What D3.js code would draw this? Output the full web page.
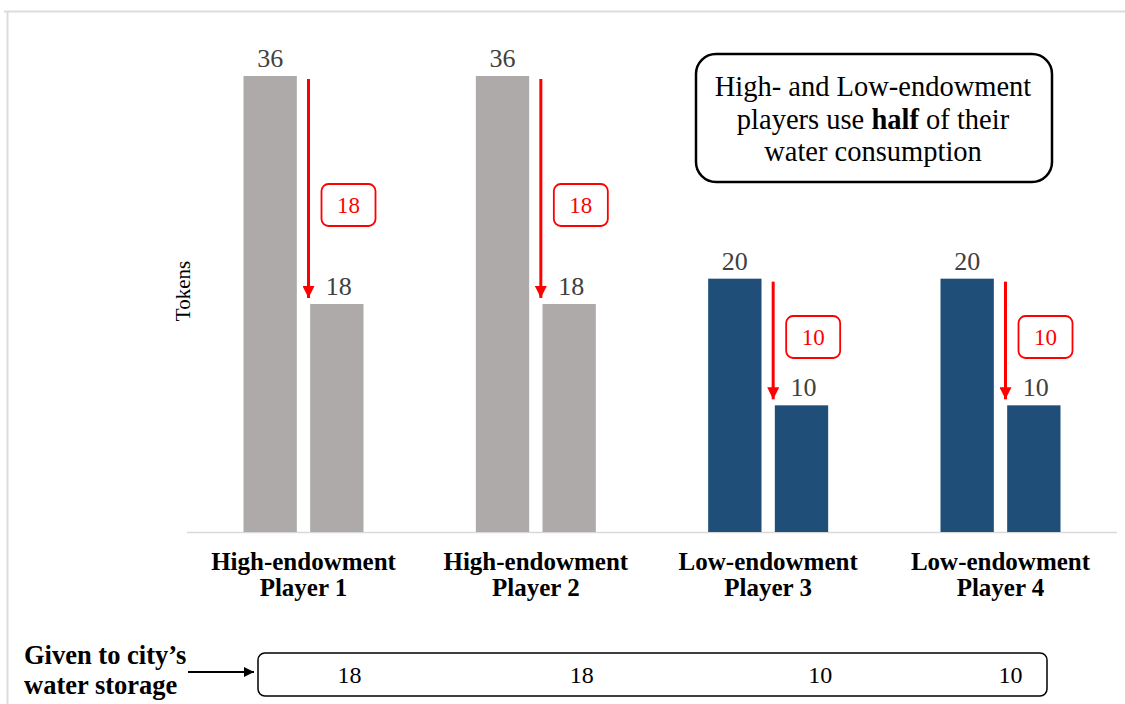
<!DOCTYPE html>
<html>
<head>
<meta charset="utf-8">
<script src="https://cdn.jsdelivr.net/npm/d3@7"></script>
</head>
<body style="margin:0; background:#fff">
<svg id="chart" width="1125" height="704" style="display:block"></svg>
<script>
// players and their token use before / after halving
const players = ["High-endowment\nPlayer 1", "High-endowment\nPlayer 2", "Low-endowment\nPlayer 3", "Low-endowment\nPlayer 4"];
const before = [36, 36, 20, 20];
const after = [18, 18, 10, 10];
const given = [18, 18, 10, 10];
const groupType = ["high", "high", "low", "low"];
const storeNudge = [46, 46, 52, 10];

const colors = { high: "#aeaaa9", low: "#1f4e79" };
const serif = '"Liberation Serif", "Times New Roman", serif';

const svg = d3.select("#chart");

// thin frame at top and left
svg.append("line").attr("x1", 4).attr("x2", 1125).attr("y1", 11.5).attr("y2", 11.5)
    .style("stroke", "#dcdcdc").style("stroke-width", 2);
svg.append("line").attr("x1", 7.5).attr("x2", 7.5).attr("y1", 11).attr("y2", 704)
    .style("stroke", "#dcdcdc").style("stroke-width", 2);

const x = d3.scalePoint().domain(d3.range(players.length)).range([303.5, 1000.5]);
const sub = d3.scaleBand().domain(["before", "after"]).range([-60, 60]).paddingInner(0.2);
const y = d3.scaleLinear().domain([0, 36]).range([532, 76]);

// baseline
svg.append("line").attr("x1", 187).attr("x2", 1117).attr("y1", y(0) + 0.5).attr("y2", y(0) + 0.5)
    .style("stroke", "#d9d9d9").style("stroke-width", 1.5);

const bars = [];
players.forEach((p, i) => {
    bars.push({ i, key: "before", v: before[i] });
    bars.push({ i, key: "after", v: after[i] });
});

svg.selectAll("rect.bar")
    .data(bars)
    .enter()
    .append("rect")
    .attr("class", "bar")
    .attr("x", d => x(d.i) + sub(d.key))
    .attr("y", d => y(d.v))
    .attr("width", sub.bandwidth())
    .attr("height", d => y(0) - y(d.v))
    .style("fill", d => colors[groupType[d.i]]);

// value labels
svg.selectAll("text.val")
    .data(bars)
    .enter()
    .append("text")
    .attr("class", "val")
    .attr("x", d => x(d.i) + sub(d.key) + sub.bandwidth() / 2 + (d.key === "after" ? 2 : 0))
    .attr("y", d => y(d.v) - 9)
    .attr("text-anchor", "middle")
    .style("font-size", "26px")
    .style("fill", "#404040")
    .text(d => d.v);

// arrow heads
const defs = svg.append("defs");
defs.append("marker")
    .attr("id", "redhead")
    .attr("viewBox", "0 0 10 10")
    .attr("refX", 10).attr("refY", 5)
    .attr("markerWidth", 4).attr("markerHeight", 4)
    .attr("orient", "auto")
    .append("path").attr("d", "M0,0L10,5L0,10z").style("fill", "#ff0000");
defs.append("marker")
    .attr("id", "blackhead")
    .attr("viewBox", "0 0 10 10")
    .attr("refX", 10).attr("refY", 5)
    .attr("markerWidth", 5).attr("markerHeight", 5)
    .attr("orient", "auto")
    .append("path").attr("d", "M0,0L10,5L0,10z").style("fill", "#000");

players.forEach((p, i) => {
    const ax = x(i) + 5;
    svg.append("line")
        .attr("x1", ax).attr("x2", ax)
        .attr("y1", y(before[i]) + 3)
        .attr("y2", y(after[i]) - 6)
        .style("stroke", "#ff0000").style("stroke-width", 3)
        .attr("marker-end", "url(#redhead)");

    const cx = x(i) + 45;
    const cy = (y(before[i]) + y(after[i])) / 2 + (i < 2 ? 15 : -5);
    svg.append("rect")
        .attr("x", cx - 27).attr("y", cy - 21)
        .attr("width", 54).attr("height", 42)
        .attr("rx", 7)
        .style("fill", "#fff").style("stroke", "#ff0000").style("stroke-width", 1.8);
    svg.append("text")
        .attr("x", cx).attr("y", cy + 8)
        .attr("text-anchor", "middle")
        .style("font-size", "23px").style("fill", "#ff0000")
        .text(before[i] - after[i]);
});

// category labels
players.forEach((p, i) => {
    const t = svg.append("text")
        .attr("x", x(i)).attr("y", 570)
        .attr("text-anchor", "middle")
        .style("font-size", "25px").style("font-weight", "bold");
    p.split("\n").forEach((line, k) => {
        t.append("tspan").attr("x", x(i)).attr("dy", k ? 26 : 0).text(line);
    });
});

// y axis title
svg.append("text")
    .attr("transform", "translate(190,291) rotate(-90)")
    .attr("text-anchor", "middle")
    .style("font-size", "21px")
    .text("Tokens");

// annotation box
svg.append("rect")
    .attr("x", 696).attr("y", 54).attr("width", 356).attr("height", 128)
    .attr("rx", 20)
    .style("fill", "#fff").style("stroke", "#000").style("stroke-width", 2.5);
const note = svg.append("text").attr("text-anchor", "middle").style("font-size", "28.5px");
note.append("tspan").attr("x", 873).attr("y", 96).text("High- and Low-endowment");
const l2 = note.append("tspan").attr("x", 873).attr("y", 129);
l2.append("tspan").text("players use ");
l2.append("tspan").style("font-weight", "bold").text("half");
l2.append("tspan").text(" of their");
note.append("tspan").attr("x", 873).attr("y", 161).text("water consumption");

// city's water storage row
const st = svg.append("text").style("font-size", "26.5px").style("font-weight", "bold");
st.append("tspan").attr("x", 24).attr("y", 664).text("Given to city\u2019s");
st.append("tspan").attr("x", 24).attr("y", 694).text("water storage");

svg.append("line")
    .attr("x1", 188).attr("x2", 254).attr("y1", 672).attr("y2", 672)
    .style("stroke", "#000").style("stroke-width", 2)
    .attr("marker-end", "url(#blackhead)");

svg.append("rect")
    .attr("x", 258).attr("y", 653).attr("width", 789).attr("height", 43)
    .attr("rx", 7)
    .style("fill", "#fff").style("stroke", "#000").style("stroke-width", 1.5);

svg.selectAll("text.store")
    .data(given)
    .enter()
    .append("text")
    .attr("class", "store")
    .attr("x", (d, i) => x(i) + storeNudge[i])
    .attr("y", 683)
    .attr("text-anchor", "middle")
    .style("font-size", "24px")
    .text(d => d);

// serif everywhere
svg.selectAll("text").style("font-family", serif);
</script>
</body>
</html>
